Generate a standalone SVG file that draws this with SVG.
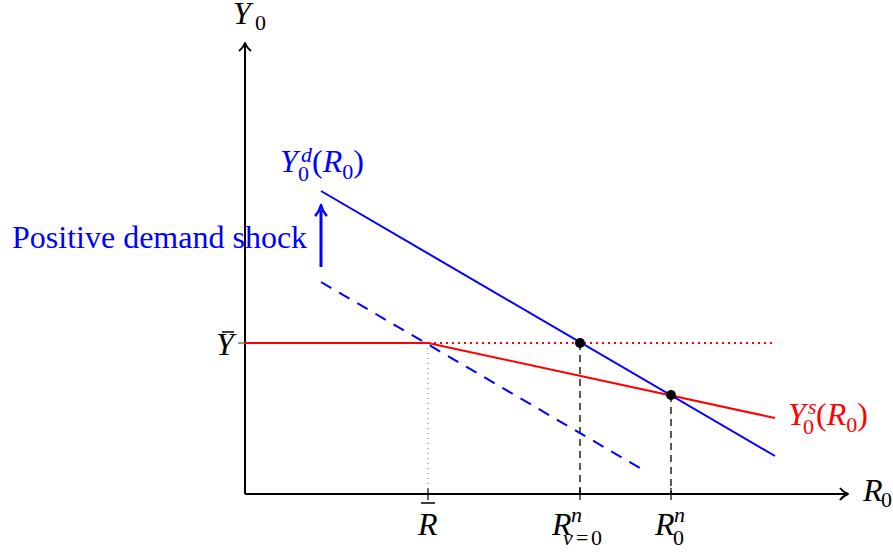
<svg xmlns="http://www.w3.org/2000/svg" width="893" height="554" viewBox="0 0 893 554">
<style>
text{font-family:"Liberation Serif","DejaVu Serif","Noto Serif",serif;font-size:32px}
.i{font-style:italic}
.s{font-size:22px}
.ax{stroke:#000;stroke-width:2;fill:none}
.blue{fill:#0000ff}
.red{fill:#ff0000}
</style>
<rect width="893" height="554" fill="#fff"/>
<g id="axes">
<line class="ax" x1="245" y1="494" x2="846" y2="494"/>
<line class="ax" x1="245" y1="494" x2="245" y2="44"/>
<path class="ax" d="M239,51 Q243,48 245,43 Q247,48 251,51" stroke-linejoin="round"/>
<path class="ax" d="M840,488 Q843,492 848,494 Q843,496 840,500" stroke-linejoin="round"/>
<line x1="238" y1="343" x2="245" y2="343" stroke="#777" stroke-width="1.5"/>
<line x1="428" y1="488" x2="428" y2="500" stroke="#000" stroke-width="1.2"/>
<line x1="580" y1="488" x2="580" y2="500" stroke="#000" stroke-width="1.2"/>
<line x1="671" y1="488" x2="671" y2="500" stroke="#000" stroke-width="1.2"/>
</g>
<g id="guides">
<line x1="428" y1="343" x2="428" y2="490" stroke="#888" stroke-width="1.2" stroke-dasharray="1 4"/>
<line x1="580" y1="343" x2="580" y2="494" stroke="#000" stroke-width="1.3" stroke-dasharray="7 5"/>
<line x1="671" y1="395" x2="671" y2="494" stroke="#000" stroke-width="1.3" stroke-dasharray="7 5"/>
</g>
<g id="supply">
<line x1="245" y1="343" x2="428" y2="343" stroke="#ff0000" stroke-width="2.2"/>
<line x1="428" y1="343" x2="775" y2="418" stroke="#ff0000" stroke-width="2"/>
<line x1="428" y1="343" x2="775" y2="343" stroke="#ff0000" stroke-width="2" stroke-dasharray="2 4"/>
</g>
<g id="demand">
<line x1="321" y1="191" x2="775" y2="456" stroke="#0000ff" stroke-width="2"/>
<line x1="321" y1="282" x2="645" y2="471" stroke="#0000ff" stroke-width="2" stroke-dasharray="12 9"/>
<line x1="321" y1="267" x2="321" y2="210" stroke="#0000ff" stroke-width="3"/>
<path d="M315,216 Q319,212 321,205 Q323,212 327,216" fill="none" stroke="#0000ff" stroke-width="2.5" stroke-linejoin="round"/>
</g>
<g id="points">
<circle cx="580" cy="343" r="5"/>
<circle cx="671" cy="395" r="5"/>
</g>
<g id="labels">
<text x="233" y="24"><tspan class="i">Y</tspan><tspan class="s" x="255" y="30">0</tspan></text>
<text x="863" y="501"><tspan class="i">R</tspan><tspan class="s" x="881" y="507">0</tspan></text>
<text class="i" x="216" y="355">Y</text>
<line x1="222" y1="332" x2="234" y2="332" stroke="#000" stroke-width="1.5"/>
<text class="i" x="418" y="535">R</text>
<line x1="421" y1="503" x2="435" y2="503" stroke="#000" stroke-width="1.5"/>
<text x="552" y="535"><tspan class="i">R</tspan><tspan class="s i" x="571" y="522">n</tspan><tspan class="s i" x="563" y="545">ν</tspan><tspan class="s" x="576" y="545">=</tspan><tspan class="s" x="591" y="545">0</tspan></text>
<text x="655" y="535"><tspan class="i">R</tspan><tspan class="s i" x="674" y="522">n</tspan><tspan class="s" x="673" y="545">0</tspan></text>
<text class="blue" x="12" y="248">Positive demand shock</text>
<text class="blue" x="280" y="172"><tspan class="i">Y</tspan><tspan class="s i" x="301" y="162">d</tspan><tspan class="s" x="298" y="181">0</tspan><tspan x="312" y="172">(</tspan><tspan class="i">R</tspan><tspan class="s" y="179">0</tspan><tspan y="172">)</tspan></text>
<text class="red" x="788" y="425"><tspan class="i">Y</tspan><tspan class="s i" x="808" y="414">s</tspan><tspan class="s" x="803" y="434">0</tspan><tspan x="816" y="425">(</tspan><tspan class="i">R</tspan><tspan class="s" y="432">0</tspan><tspan y="425">)</tspan></text>
</g>
</svg>
